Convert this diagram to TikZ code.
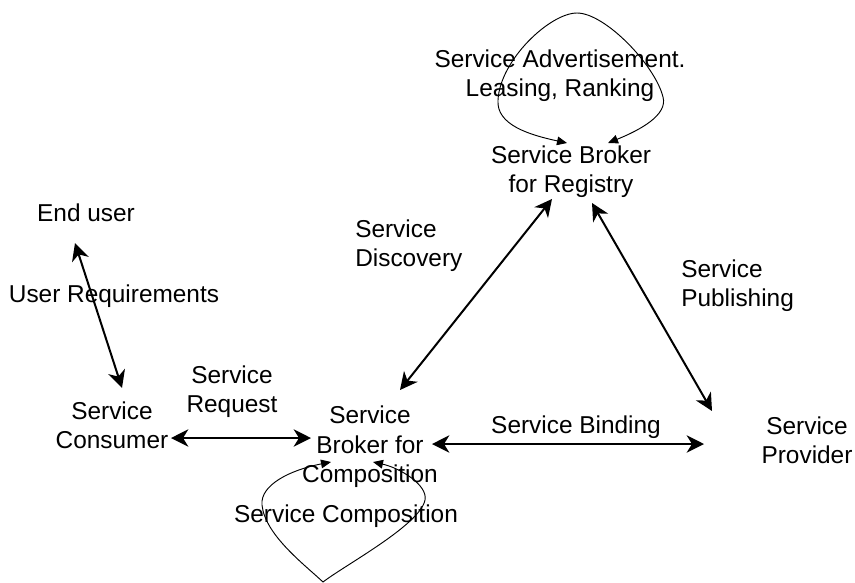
\documentclass[tikz,border=0pt]{standalone}
\usepackage{fontspec}
\setmainfont{Liberation Sans}
\usetikzlibrary{arrows.meta}
\begin{document}
\begin{tikzpicture}[x=0.75pt,y=-0.75pt,
  lbl/.style={font=\fontsize{18.3}{22}\selectfont, align=center, inner sep=0pt},
  lbll/.style={font=\fontsize{18.3}{22}\selectfont, align=left, anchor=west, inner sep=0pt},
  conn/.style={line width=1.5pt, {Stealth[length=13pt,width=13pt,inset=4pt]}-{Stealth[length=13pt,width=13pt,inset=4pt]}},
  loopc/.style={line width=0.7pt, {Triangle[length=7.5pt,width=6.5pt]}-{Triangle[length=7.5pt,width=6.5pt]}}]
\useasboundingbox (0,0) rectangle (855,582);
% labels
\node[lbl] (adv) at (560,76) {Service Advertisement.\\Leasing, Ranking};
\node[lbl] (reg) at (571,172) {Service Broker\\for Registry};
\node[lbl] (eu) at (86,213) {End user};
\node[lbll] (disc) at (355,246) {Service\\Discovery};
\node[lbl] (ureq) at (114,296) {User Requirements};
\node[lbll] (pub) at (681,286) {Service\\Publishing};
\node[lbl] (sreq) at (232,392) {Service\\Request};
\node[lbl] (cons) at (112,425) {Service\\Consumer};
\node[lbl] (comp) at (370,447) {Service\\Broker for\\Composition};
\node[lbl] (bind) at (576,427) {Service Binding};
\node[lbl] (prov) at (807,440) {Service\\Provider};
\node[lbl] (scomp) at (346,516) {Service Composition};
% connector ends
\coordinate (eu-e) at (75,243);
\coordinate (cons-n) at (122,388);
\coordinate (cons-e) at (171,438);
\coordinate (comp-w) at (311,438);
\coordinate (comp-e) at (432,444);
\coordinate (prov-w) at (704,444);
\coordinate (comp-ne) at (400,390);
\coordinate (reg-sw) at (552,199);
\coordinate (reg-se) at (592,203);
\coordinate (prov-nw) at (712,411);
\draw[conn] (eu-e) -- (cons-n);
\draw[conn] (cons-e) -- (comp-w);
\draw[conn] (comp-e) -- (prov-w);
\draw[conn] (comp-ne) -- (reg-sw);
\draw[conn] (reg-se) -- (prov-nw);
% self loops
\coordinate (reg-t1) at (567,143);
\coordinate (reg-t2) at (608,143);
\draw[loopc] (reg-t1) .. controls (530,135) and (496,125) .. (498,100)
  .. controls (500,60) and (550,13) .. (577,13)
  .. controls (605,13) and (655,65) .. (663,97)
  .. controls (668,115) and (640,130) .. (reg-t2);
\coordinate (comp-t1) at (331,462);
\coordinate (comp-t2) at (373,462);
\draw[loopc] (comp-t1) .. controls (290,470) and (260,485) .. (262,505)
  .. controls (265,535) and (305,565) .. (323,582)
  .. controls (345,565) and (420,525) .. (425,500)
  .. controls (428,485) and (400,468) .. (comp-t2);
\end{tikzpicture}
\end{document}
